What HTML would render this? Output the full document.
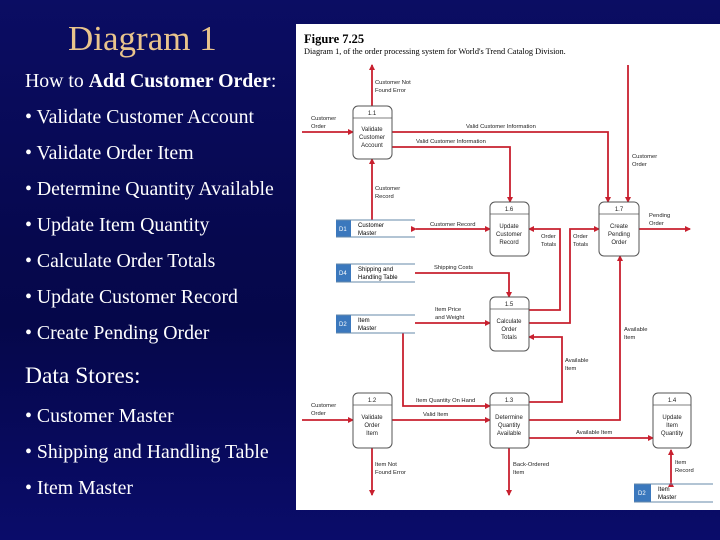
<!DOCTYPE html>
<html><head><meta charset="utf-8"><style>
html,body{margin:0;padding:0}
body{width:720px;height:540px;overflow:hidden;background:linear-gradient(180deg,#0b0d63 0%,#06084e 45%,#05074a 60%,#0a0c6a 100%);position:relative;font-family:"Liberation Serif",serif}
.t{position:absolute;color:#fff;font-size:19.8px;white-space:nowrap;left:25px}
</style></head><body>
<div class="t" style="left:68px;top:19px;font-size:35px;color:#e9c48c">Diagram 1</div>
<div class="t" style="top:70px">How to <b>Add Customer Order</b>:</div>
<div class="t" style="top:106px">• Validate Customer Account</div>
<div class="t" style="top:142px">• Validate Order Item</div>
<div class="t" style="top:178px">• Determine Quantity Available</div>
<div class="t" style="top:214px">• Update Item Quantity</div>
<div class="t" style="top:250px">• Calculate Order Totals</div>
<div class="t" style="top:286px">• Update Customer Record</div>
<div class="t" style="top:322px">• Create Pending Order</div>
<div class="t" style="top:363px;font-size:23.5px">Data Stores:</div>
<div class="t" style="top:405px">• Customer Master</div>
<div class="t" style="top:441px">• Shipping and Handling Table</div>
<div class="t" style="top:477px">• Item Master</div>
<svg style="position:absolute;left:0;top:0" width="720" height="540" viewBox="0 0 720 540">
<defs><marker id="a" markerWidth="6" markerHeight="6" refX="5" refY="3" orient="auto" markerUnits="userSpaceOnUse"><path d="M0,0L6,3L0,6z" fill="#c8202f"/></marker></defs>
<rect x="296" y="24" width="424" height="486" fill="#fff"/>
<text x="304" y="43" font-family="Liberation Serif" font-weight="bold" font-size="12.5">Figure 7.25</text>
<text x="304" y="54" font-family="Liberation Serif" font-size="8.3">Diagram 1, of the order processing system for World's Trend Catalog Division.</text>
<g fill="none" stroke="#c8202f" stroke-width="1.8" marker-end="url(#a)">
<path d="M372 106V65"/><path d="M302 132H353"/>
<path d="M392 132H608V202"/><path d="M392 147H510V202"/>
<path d="M628 65V202"/><path d="M372 220V159"/>
<path d="M416 229H490" marker-start="url(#a)"/>
<path d="M639 229H690"/>
<path d="M529 310H560V229H529"/><path d="M529 323H570V229H599"/>
<path d="M415 273H509V297"/><path d="M415 323H490"/>
<path d="M403 333V406H490"/>
<path d="M529 402H562V337H529"/><path d="M529 420H620V256"/>
<path d="M302 420H353"/><path d="M392 420H490"/><path d="M529 438H653"/>
<path d="M372 448V495"/><path d="M509 448V495"/>
<path d="M671 482V450" marker-start="url(#a)"/>
</g>
<g fill="#fff" stroke="#555" stroke-width="1">
<rect x="353" y="106" width="39" height="53" rx="5"/><rect x="490" y="202" width="39" height="54" rx="5"/>
<rect x="599" y="202" width="40" height="54" rx="5"/><rect x="490" y="297" width="39" height="54" rx="5"/>
<rect x="353" y="393" width="39" height="55" rx="5"/><rect x="490" y="393" width="39" height="55" rx="5"/>
<rect x="653" y="393" width="38" height="55" rx="5"/>
</g>
<g stroke="#555" stroke-width="0.8">
<path d="M353 118H392M490 214H529M599 214H639M490 309H529M353 405H392M490 405H529M653 405H691"/>
</g>
<g font-family="Liberation Sans" font-size="6" text-anchor="middle" fill="#222">
<text x="372" y="115">1.1</text><text x="372" y="131">Validate</text><text x="372" y="139">Customer</text><text x="372" y="147">Account</text>
<text x="509" y="211">1.6</text><text x="509" y="228">Update</text><text x="509" y="236">Customer</text><text x="509" y="244">Record</text>
<text x="619" y="211">1.7</text><text x="619" y="228">Create</text><text x="619" y="236">Pending</text><text x="619" y="244">Order</text>
<text x="509" y="306">1.5</text><text x="509" y="323">Calculate</text><text x="509" y="331">Order</text><text x="509" y="339">Totals</text>
<text x="372" y="402">1.2</text><text x="372" y="419">Validate</text><text x="372" y="427">Order</text><text x="372" y="435">Item</text>
<text x="509" y="402">1.3</text><text x="509" y="419">Determine</text><text x="509" y="427">Quantity</text><text x="509" y="435">Available</text>
<text x="672" y="402">1.4</text><text x="672" y="419">Update</text><text x="672" y="427">Item</text><text x="672" y="435">Quantity</text>
</g>
<g font-family="Liberation Sans" font-size="6">
<rect x="336" y="220" width="15" height="17" fill="#3b78bd"/><path d="M336 220H415M336 237H415" stroke="#6688aa" stroke-width="1"/>
<text x="339" y="231" fill="#fff">D1</text><text x="358" y="227">Customer</text><text x="358" y="235">Master</text>
<rect x="336" y="264" width="15" height="18" fill="#3b78bd"/><path d="M336 264H415M336 282H415" stroke="#6688aa" stroke-width="1"/>
<text x="339" y="275" fill="#fff">D4</text><text x="358" y="271">Shipping and</text><text x="358" y="279">Handling Table</text>
<rect x="336" y="315" width="15" height="18" fill="#3b78bd"/><path d="M336 315H415M336 333H415" stroke="#6688aa" stroke-width="1"/>
<text x="339" y="326" fill="#fff">D2</text><text x="358" y="322">Item</text><text x="358" y="330">Master</text>
<rect x="634" y="484" width="17" height="18" fill="#3b78bd"/><path d="M634 484H713M634 502H713" stroke="#6688aa" stroke-width="1"/>
<text x="638" y="495" fill="#fff">D2</text><text x="658" y="491">Item</text><text x="658" y="499">Master</text>
</g>
<g font-family="Liberation Sans" font-size="5.8" fill="#222">
<text x="375" y="84">Customer Not</text><text x="375" y="92">Found Error</text>
<text x="311" y="120">Customer</text><text x="311" y="128">Order</text>
<text x="466" y="128">Valid Customer Information</text>
<text x="416" y="143">Valid Customer Information</text>
<text x="632" y="158">Customer</text><text x="632" y="166">Order</text>
<text x="375" y="190">Customer</text><text x="375" y="198">Record</text>
<text x="430" y="226">Customer Record</text>
<text x="649" y="217">Pending</text><text x="649" y="225">Order</text>
<text x="541" y="238">Order</text><text x="541" y="246">Totals</text>
<text x="573" y="238">Order</text><text x="573" y="246">Totals</text>
<text x="434" y="269">Shipping Costs</text>
<text x="435" y="311">Item Price</text><text x="435" y="319">and Weight</text>
<text x="624" y="331">Available</text><text x="624" y="339">Item</text>
<text x="565" y="362">Available</text><text x="565" y="370">Item</text>
<text x="416" y="402">Item Quantity On Hand</text>
<text x="311" y="407">Customer</text><text x="311" y="415">Order</text>
<text x="423" y="416">Valid Item</text>
<text x="576" y="434">Available Item</text>
<text x="375" y="466">Item Not</text><text x="375" y="474">Found Error</text>
<text x="513" y="466">Back-Ordered</text><text x="513" y="474">Item</text>
<text x="675" y="464">Item</text><text x="675" y="472">Record</text>
</g>
</svg>
</body></html>
